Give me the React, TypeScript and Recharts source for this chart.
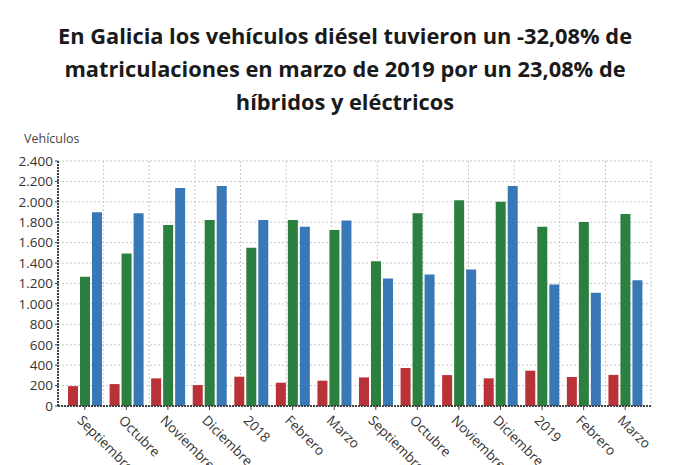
import { BarChart, Bar, XAxis, YAxis, CartesianGrid } from 'recharts';

// Matriculaciones en Galicia por tipo de combustible
const months = [
    'Septiembre', 'Octubre', 'Noviembre', 'Diciembre', '2018', 'Febrero', 'Marzo',
    'Septiembre', 'Octubre', 'Noviembre', 'Diciembre', '2019', 'Febrero', 'Marzo',
];
const hibridos = [195, 215, 271, 205, 287, 228, 248, 280, 372, 303, 271, 346, 284, 305];
const gasolina = [1267, 1493, 1773, 1822, 1549, 1822, 1725, 1418, 1888, 2015, 2002, 1757, 1803, 1881];
const diesel = [1898, 1888, 2135, 2155, 1822, 1757, 1816, 1248, 1287, 1336, 2155, 1190, 1109, 1233];
const yTicks = [0, 200, 400, 600, 800, 1000, 1200, 1400, 1600, 1800, 2000, 2200, 2400];

const data = months.map((m, i) => ({
    key: `${m}-${i}`,
    month: m,
    hibridos: hibridos[i],
    gasolina: gasolina[i],
    diesel: diesel[i],
}));

const font = '"Open Sans", "Noto Sans", sans-serif';

const formatThousands = (v: number) => String(v).replace(/\B(?=(\d{3})+(?!\d))/g, '.');

function MonthTick({ x, y, payload, index }: any) {
    const label = months[index] ?? payload.value;
    return (
        <g transform={`translate(${x - 5},${y + 6}) rotate(45)`}>
            <text x={0} y={0} dy="0.35em" textAnchor="start" fill="#333" fontSize={13.5} fontFamily={font}>
                {label}
            </text>
        </g>
    );
}

export default function App() {
    return (
        <div style={{ position: 'fixed', left: 0, top: 0, width: 690, height: 465, background: '#fff', overflow: 'hidden' }}>
            {/* Title */}
            <div
                style={{
                    position: 'absolute',
                    top: 19,
                    left: 0,
                    width: 690,
                    textAlign: 'center',
                    fontFamily: font,
                    fontWeight: 700,
                    fontSize: 21.8,
                    lineHeight: '33px',
                    color: '#1a1a1a',
                }}
            >
                En Galicia los vehículos diésel tuvieron un -32,08% de<br />
                matriculaciones en marzo de 2019 por un 23,08% de<br />
                híbridos y eléctricos
            </div>
            <div style={{ position: 'absolute', left: 24, top: 130, fontFamily: font, fontSize: 12.5, color: '#444' }}>
                Vehículos
            </div>
            <div style={{ position: 'absolute', left: 0, top: 0 }}>
                <BarChart
                    width={690}
                    height={465}
                    data={data}
                    margin={{ top: 161, right: 39, left: 0, bottom: 0 }}
                    barSize={10}
                    barGap={2}
                >
                    <CartesianGrid
                        stroke="#c8c8c8"
                        strokeDasharray="2 2"
                        verticalCoordinatesGenerator={(props: any) => {
                            const off = props.offset ?? { left: 58, width: 593 };
                            return Array.from({ length: 14 }, (_, i) => off.left + (i * off.width) / 13);
                        }}
                    />
                    <XAxis
                        dataKey="key"
                        height={59}
                        interval={0}
                        padding={{ left: 6, right: 5 }}
                        axisLine={{ stroke: '#444', strokeWidth: 2, strokeDasharray: '2 1' }}
                        tickLine={{ stroke: '#444' }}
                        tickSize={4}
                        tick={<MonthTick />}
                    />
                    <YAxis
                        width={58}
                        domain={[0, 2400]}
                        ticks={yTicks}
                        interval={0}
                        tickFormatter={formatThousands}
                        axisLine={{ stroke: '#444', strokeWidth: 2, strokeDasharray: '2 1' }}
                        tickLine={{ stroke: '#444' }}
                        tickSize={3}
                        tick={{ fill: '#333', fontSize: 13.5, fontFamily: font }}
                    />
                    <Bar dataKey="hibridos" name="Híbridos y eléctricos" fill="#b83238" isAnimationActive={false} />
                    <Bar dataKey="gasolina" name="Gasolina" fill="#2b7f3f" isAnimationActive={false} />
                    <Bar dataKey="diesel" name="Diésel" fill="#3878b6" isAnimationActive={false} />
                </BarChart>
            </div>
        </div>
    );
}
